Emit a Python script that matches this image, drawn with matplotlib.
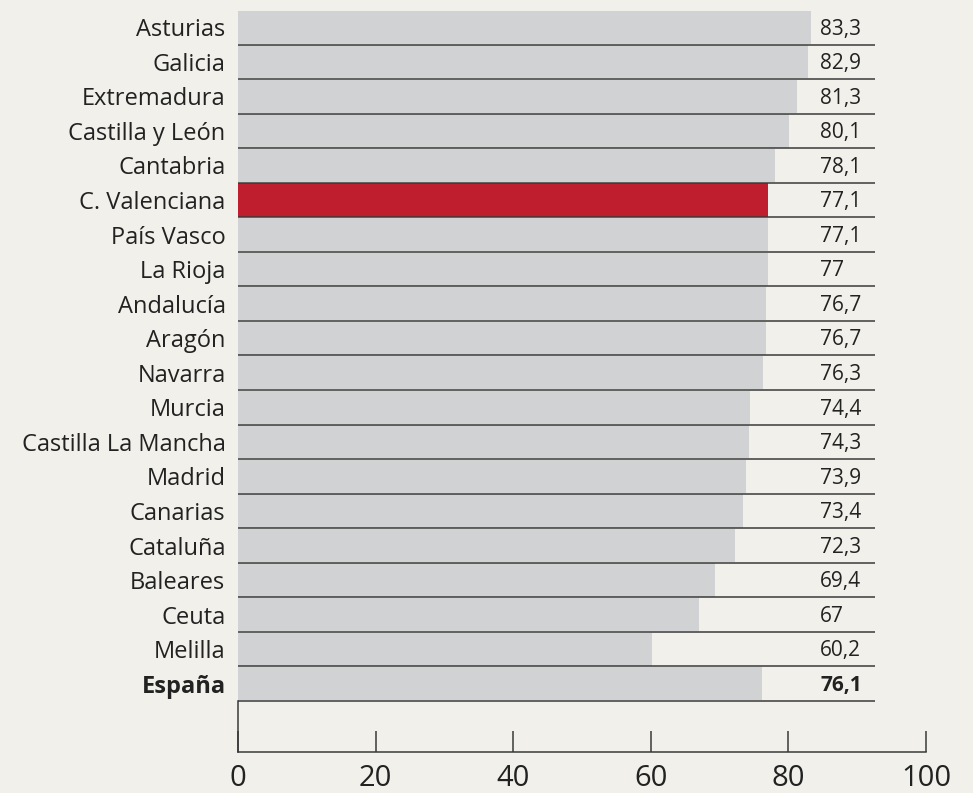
import matplotlib.pyplot as plt

# data
regions = [
    "Asturias", "Galicia", "Extremadura", "Castilla y León", "Cantabria",
    "C. Valenciana", "País Vasco", "La Rioja", "Andalucía", "Aragón",
    "Navarra", "Murcia", "Castilla La Mancha", "Madrid", "Canarias",
    "Cataluña", "Baleares", "Ceuta", "Melilla", "España",
]
values = [83.3, 82.9, 81.3, 80.1, 78.1, 77.1, 77.1, 77.0, 76.7, 76.7,
          76.3, 74.4, 74.3, 73.9, 73.4, 72.3, 69.4, 67.0, 60.2, 76.1]
value_labels = ["83,3", "82,9", "81,3", "80,1", "78,1", "77,1", "77,1", "77",
                "76,7", "76,7", "76,3", "74,4", "74,3", "73,9", "73,4", "72,3",
                "69,4", "67", "60,2", "76,1"]
highlight = "C. Valenciana"
total = "España"
xticks = [0, 20, 40, 60, 80, 100]

BG = "#f1f0ea"
GREY = "#d1d2d4"
RED = "#be1e2d"
INK = "#222222"

plt.rcParams["font.family"] = ["Open Sans", "DejaVu Sans"]

fig = plt.figure(figsize=(9.73, 7.93), dpi=100, facecolor=BG)
ax = fig.add_axes([238 / 973, 1 - 752 / 793, (926 - 238) / 973, (752 - 10) / 793])
ax.set_facecolor(BG)

ys = list(range(len(regions)))
colors = [RED if r == highlight else GREY for r in regions]
ax.barh(ys, values, height=0.96, color=colors, zorder=1)

line_end = 92.6
ax.hlines([y + 0.5 for y in ys], 0, line_end, color="#3a3a3a", lw=1.1, zorder=2)

for y, lab, r in zip(ys, value_labels, regions):
    ax.text(84.6, y + 0.05, lab, ha="left", va="center", fontsize=15,
            color=INK, fontweight="bold" if r == total else "normal")

ax.set_xlim(0, 100)
ax.set_ylim(19.5 + (752 - 701) / 34.55, -0.5)

ax.set_yticks(ys)
ax.set_yticklabels(regions, fontsize=17, color=INK)
for lbl in ax.get_yticklabels():
    if lbl.get_text() == total:
        lbl.set_fontweight("bold")
ax.tick_params(axis="y", length=0, pad=9)

ax.set_xticks(xticks)
ax.set_xticklabels([str(t) for t in xticks], fontsize=21, color=INK)
ax.tick_params(axis="x", direction="in", length=15, width=1.1, color="#3a3a3a", pad=8.5)

for side in ("top", "right"):
    ax.spines[side].set_visible(False)
ax.spines["bottom"].set_color("#3a3a3a")
ax.spines["bottom"].set_linewidth(1.1)
ax.spines["left"].set_color("#3a3a3a")
ax.spines["left"].set_linewidth(1.1)
ax.spines["left"].set_bounds(19.5, 19.5 + (752 - 701) / 34.55)

fig.savefig("out.png", dpi=100, facecolor=BG)
